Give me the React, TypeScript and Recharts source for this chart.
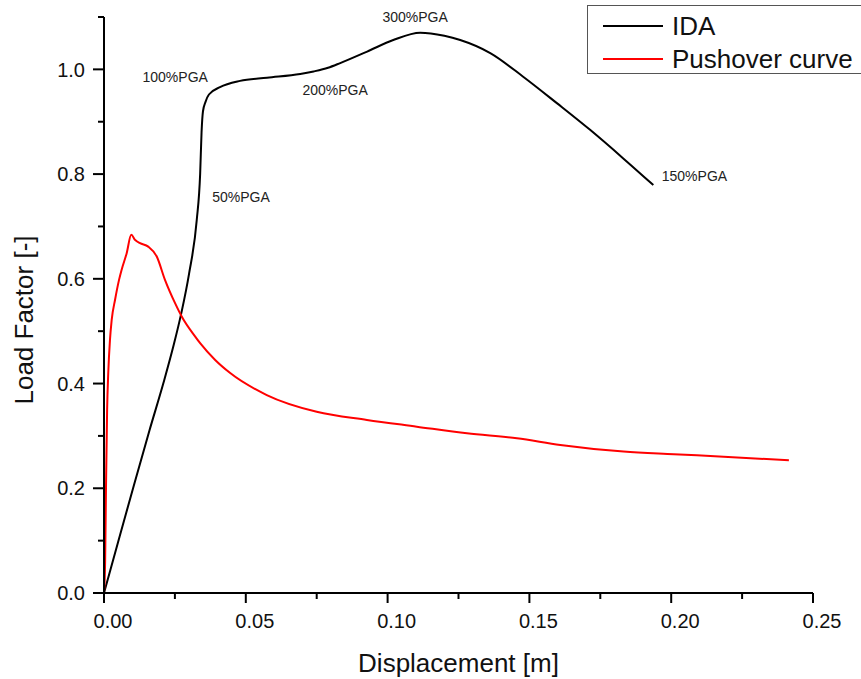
import { ComposedChart, Line, Scatter, XAxis, YAxis, Legend, Label } from 'recharts';

// IDA curve (displacement in m, load factor)
const idaDisp = [0, 0.005, 0.0105, 0.016, 0.021, 0.0245, 0.0272, 0.03, 0.0327, 0.0339, 0.0344, 0.0349, 0.0358, 0.037, 0.0409, 0.048, 0.0575, 0.0692, 0.0739, 0.079, 0.0833, 0.0928, 0.102, 0.1115, 0.12, 0.1256, 0.1362, 0.1478, 0.1598, 0.1715, 0.1831, 0.1937];
const idaLoad = [0, 0.098, 0.205, 0.31, 0.402, 0.472, 0.533, 0.61, 0.712, 0.8, 0.88, 0.92, 0.938, 0.952, 0.966, 0.978, 0.984, 0.991, 0.996, 1.003, 1.012, 1.034, 1.056, 1.07, 1.064, 1.056, 1.031, 0.986, 0.935, 0.884, 0.83, 0.779];

// Pushover curve
const pushDisp = [0, 0.0004, 0.0007, 0.0011, 0.0015, 0.0021, 0.0027, 0.0039, 0.0053, 0.0062, 0.008, 0.0096, 0.011, 0.0127, 0.0156, 0.0186, 0.0215, 0.0251, 0.0274, 0.0321, 0.0339, 0.0392, 0.0445, 0.0574, 0.075, 0.0927, 0.1103, 0.128, 0.1456, 0.1609, 0.1832, 0.2009, 0.2185, 0.2415];
const pushLoad = [0, 0.06, 0.2, 0.35, 0.42, 0.483, 0.521, 0.56, 0.598, 0.617, 0.649, 0.684, 0.674, 0.668, 0.6615, 0.6425, 0.598, 0.553, 0.528, 0.49, 0.477, 0.445, 0.42, 0.378, 0.346, 0.3305, 0.3177, 0.305, 0.2955, 0.2827, 0.27, 0.265, 0.2604, 0.2535];

// PGA annotations
const noteText = ['100%PGA', '50%PGA', '200%PGA', '300%PGA', '150%PGA'];
const noteDisp = [0.0251, 0.0483, 0.0815, 0.1097, 0.2082];
const noteLoad = [0.9857, 0.7565, 0.961, 1.1, 0.7966];

const xTicks = [0, 0.025, 0.05, 0.075, 0.1, 0.125, 0.15, 0.175, 0.2, 0.225, 0.25];
const yTicks = [0, 0.1, 0.2, 0.3, 0.4, 0.5, 0.6, 0.7, 0.8, 0.9, 1.0, 1.1];

const idaData = idaDisp.map((x, i) => ({ x, y: idaLoad[i] }));
const pushData = pushDisp.map((x, i) => ({ x, y: pushLoad[i] }));
const notes = noteText.map((t, i) => ({ x: noteDisp[i], y: noteLoad[i], t }));

function XTick({ x, y, payload }: any) {
  const major = Math.round(payload.value * 1000) % 50 === 0;
  return (
    <g>
      <line x1={x} x2={x} y1={y} y2={y + (major ? 10 : 6)} stroke="#000" strokeWidth={2} />
      {major && (
        <text x={x + 9} y={y + 35} textAnchor="middle" fontSize={20} fill="#111">
          {payload.value.toFixed(2)}
        </text>
      )}
    </g>
  );
}

function YTick({ x, y, payload }: any) {
  const major = Math.round(payload.value * 10) % 2 === 0;
  return (
    <g>
      <line x1={x - (major ? 11 : 6)} x2={x} y1={y} y2={y} stroke="#000" strokeWidth={2} />
      {major && (
        <text x={x - 19} y={y} dy="0.36em" textAnchor="end" fontSize={20} fill="#111">
          {payload.value.toFixed(1)}
        </text>
      )}
    </g>
  );
}

function LegendBox({ payload }: any) {
  const items = (payload || []).filter((p: any) => p.type !== 'none');
  return (
    <div style={{ width: 290, height: 69, border: '1.5px solid #555', background: '#fff', boxSizing: 'border-box', position: 'relative' }}>
      {items.map((p: any, i: number) => (
        <div key={p.value} style={{ position: 'absolute', left: 15, top: 5 + i * 33, height: 30, display: 'flex', alignItems: 'center' }}>
          <span style={{ display: 'inline-block', width: 60, height: 2, background: p.color }} />
          <span style={{ marginLeft: 9, fontSize: 26, lineHeight: '30px', color: '#111', whiteSpace: 'nowrap' }}>{p.value}</span>
        </div>
      ))}
    </div>
  );
}

export default function App() {
  return (
    <div style={{ position: 'absolute', left: 0, top: 0, width: 861, height: 679, background: '#fff', fontFamily: '"Liberation Sans", Arial, sans-serif' }}>
      <ComposedChart width={861} height={679} margin={{ top: 17, right: 48, bottom: 0, left: 0 }}>
        <XAxis
          type="number"
          dataKey="x"
          domain={[0, 0.25]}
          ticks={xTicks}
          interval={0}
          height={86}
          tickSize={0}
          tickMargin={0}
          tickLine={false}
          tick={<XTick />}
          axisLine={{ stroke: '#000', strokeWidth: 2 }}
        >
          <Label
            content={(props: any) => {
              const vb = props.viewBox;
              return (
                <text x={vb.x + vb.width / 2} y={vb.y + 79} textAnchor="middle" fontSize={26} fill="#111">
                  Displacement [m]
                </text>
              );
            }}
          />
        </XAxis>
        <YAxis
          type="number"
          domain={[0, 1.1]}
          ticks={yTicks}
          interval={0}
          width={104}
          tickSize={0}
          tickMargin={0}
          tickLine={false}
          tick={<YTick />}
          axisLine={{ stroke: '#000', strokeWidth: 2 }}
        >
          <Label
            content={(props: any) => {
              const vb = props.viewBox;
              const cx = vb.x + 33;
              const cy = vb.y + vb.height / 2 + 15;
              return (
                <text transform={`translate(${cx},${cy}) rotate(-90)`} textAnchor="middle" fontSize={26} fill="#111">
                  Load Factor [-]
                </text>
              );
            }}
          />
        </YAxis>
        <Legend
          layout="vertical"
          align="center"
          verticalAlign="middle"
          content={<LegendBox />}
          wrapperStyle={{ left: 587, top: 5, width: 290 }}
        />
        <Line data={idaData} dataKey="y" name="IDA" type="monotone" stroke="#000" strokeWidth={2} dot={false} activeDot={false} isAnimationActive={false} />
        <Line data={pushData} dataKey="y" name="Pushover curve" type="monotone" stroke="#ff0000" strokeWidth={2} dot={false} activeDot={false} isAnimationActive={false} />
        <Scatter
          data={notes}
          dataKey="y"
          name="notes"
          legendType="none"
          isAnimationActive={false}
          shape={(p: any) => (
            <text x={p.cx} y={p.cy} dy="0.36em" textAnchor="middle" fontSize={14} fill="#222">
              {p.payload.t}
            </text>
          )}
        />
      </ComposedChart>
    </div>
  );
}
